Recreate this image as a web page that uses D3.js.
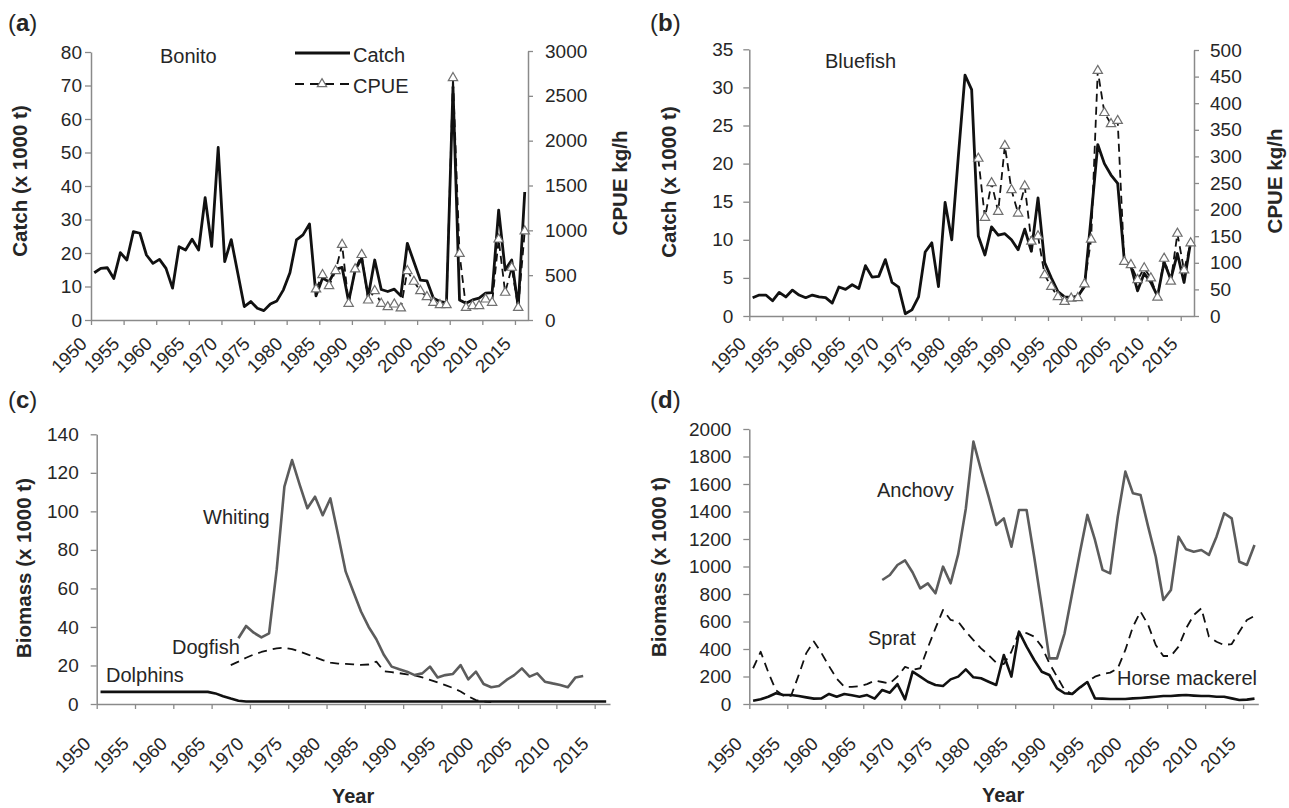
<!DOCTYPE html>
<html><head><meta charset="utf-8">
<script src="https://cdn.jsdelivr.net/npm/d3@7"></script>
<style>
body{margin:0;background:#fff}
svg{display:block}
text{font-family:"Liberation Sans",Arial,Helvetica,sans-serif;fill:#262626}
</style></head>
<body><svg id="chart" width="1289" height="808"></svg>
<script>
// ---------- categories ----------
const years = d3.range(1950, 2017);
const xTickYears = [1950,1955,1960,1965,1970,1975,1980,1985,1990,1995,2000,2005,2010,2015];

// ---------- (a) Bonito ----------
const bonitoCatch = [14.1,15.4,15.6,12.4,20.1,17.9,26.4,25.9,19.4,16.9,18.1,15.4,9.5,21.9,20.9,24.1,20.9,
  36.5,22,51.5,17.4,24,14,4,5.5,3.5,2.8,4.8,5.7,9,14.1,23.9,25.4,28.7,
  7.2,12.5,11.4,15.1,15.7,5.5,14.9,18.4,7.0,17.9,9.1,8.5,9.2,7.2,22.9,17.4,11.9,11.7,6.5,5.5,5.2,
  69.5,6,5.0,6,6.5,8.0,8.2,32.8,14.9,17.9,4.0,38.2];
const bonitoCpueStart = 1984;
const bonitoCpue = [343,503,380,548,840,183,567,727,220,324,183,145,175,131,548,429,324,257,194,168,168,
  2700,740,138,158,158,231,194,900,306,585,138,990];
const catchTicksA = [0,10,20,30,40,50,60,70,80];
const cpueTicksA = [0,500,1000,1500,2000,2500,3000];

// ---------- (b) Bluefish ----------
const bluefishCatch = [2.4,2.75,2.75,2.0,3.1,2.5,3.4,2.75,2.4,2.75,2.5,2.4,1.7,3.8,3.5,4.1,3.6,6.6,5.1,5.2,7.4,4.4,3.8,0.3,0.8,2.5,8.4,9.6,3.85,14.9,10.0,21,31.6,29.7,
  10.5,8.0,11.7,10.6,10.8,10.0,8.7,11.4,8.5,15.5,7.0,5.0,
  3.2,2.5,2.45,2.6,3.85,13,22.5,20.0,18.5,17.4,7.3,6.5,3.3,5.6,4.4,2.6,7.1,4.8,8.2,4.4,9.75];
const bluefishCpueStart = 1984;
const bluefishCpue = [296,185,250,196,320,237,193,244,140,150,77,55,36,27,33,34,60,144,461,382,361,367,102,96,68,90,71,35,108,65,155,86,137];
const catchTicksB = [0,5,10,15,20,25,30,35];
const cpueTicksB = [0,50,100,150,200,250,300,350,400,450,500];

// ---------- (c) Biomass ----------
const dolphins = [6.3,6.3,6.3,6.3,6.3,6.3,6.3,6.3,6.3,6.3,6.3,6.3,6.3,6.3,6.3,5.5,4,2.8,1.7,
  1.3,1.3,1.3,1.3,1.3,1.3,1.3,1.3,1.3,1.3,1.3,1.3,1.3,1.3,1.3,1.3,1.3,1.3,1.3,1.3,1.3,1.3,1.3,1.3,1.3,1.3,1.3,1.3,1.3,
  1.3,1.3,1.3,1.3,1.3,1.3,1.3,1.3,1.3,1.3,1.3,1.3,1.3,1.3,1.3,1.3,1.3,1.3,1.3];
const whitingStart = 1968;
const whiting = [34.1,40.5,37,34.6,36.7,70,112.8,126.6,113.7,101.6,107.6,98,106.7,88,68.7,58.3,48,40,33.6,25.4,19.4,18,16.8,15,15.9,19.4,13.8,15,15.6,20.2,12.8,16.8,10.4,8.7,9.3,12.5,15,18.5,14.2,15.9,11.6,10.7,9.9,8.7,13.8,14.5];
const dogfishStart = 1967;
const dogfish = [20.2,22,24,25.7,27,28,28.9,29.2,28.5,27.2,25.8,24.2,22.8,21.5,21,20.8,20.6,20.3,20.5,22,17,16.5,16,15.4,14.8,13.8,12.5,11.2,9.8,8.3,6.5,4,2,1.3,1.0];
const biomassTicksC = [0,20,40,60,80,100,120,140];

// ---------- (d) Biomass ----------
const anchovyStart = 1967;
const anchovy = [902,938,1011,1045,956,841,877,805,999,878,1090,1420,1908,1702,1508,1302,1350,1144,1411,1411,1071,708,332,332,514,805,1096,1375,1193,975,950,1362,1690,1532,1520,1290,1071,756,829,1217,1125,1108,1120,1084,1217,1387,1350,1035,1011,1156];
const sprat = [260,380,230,100,60,60,210,370,455,370,275,185,125,125,130,145,170,
  160,150,200,270,250,260,410,550,684,611,599,526,465,405,356,300,290,
  380,526,515,490,417,296,199,102,73,114,162,199,218,228,259,393,562,
  672,575,429,349,349,417,550,647,696,490,453,429,436,526,611,640];
const horseMackerel = [24,34,53,78,65,65,58,48,39,41,73,53,73,63,53,65,39,
  102,82,145,34,235,199,162,138,131,179,199,252,194,187,162,138,356,
  199,526,417,320,235,211,114,78,73,120,160,41,39,36,36,36,41,
  44,48,53,58,58,63,65,61,58,58,53,53,41,29,32,39];
const biomassTicksD = [0,200,400,600,800,1000,1200,1400,1600,1800,2000];

// ---------- helpers ----------
const svg = d3.select('#chart');
const AXC = '#8a8a8a';
const fmt = d3.format('d');
function series(start, vals){ return vals.map((v,i)=>({year:start+i, v})); }

function makePanel(cfg){
  const g = svg.append('g');
  const x = d3.scaleLinear().domain([1950, 2017]).range([cfg.x0, cfg.x1]);
  const y = d3.scaleLinear().domain([0, cfg.yMax]).range([cfg.yb, cfg.yt]);
  // x axis
  const xa = g.append('g').attr('transform', `translate(0,${cfg.yb})`)
    .call(d3.axisBottom(x).tickValues(xTickYears).tickSize(5).tickSizeOuter(0).tickFormat(''));
  xa.select('.domain').attr('stroke', AXC).attr('stroke-width', 1.5);
  xa.selectAll('.tick line').attr('stroke', AXC).attr('stroke-width', 1.3);
  g.selectAll('.xlab').data(xTickYears).join('text')
    .attr('transform', d => `translate(${x(d) + cfg.xlDx},${cfg.xlY}) rotate(-45)`)
    .attr('text-anchor', 'end').attr('font-size', 18.5).text(d => d);
  // left axis
  const ya = g.append('g').attr('transform', `translate(${cfg.x0},0)`)
    .call(d3.axisLeft(y).tickValues(cfg.ticks).tickFormat(fmt).tickSize(6).tickSizeOuter(0).tickPadding(cfg.padL));
  ya.select('.domain').attr('stroke', AXC).attr('stroke-width', 1.5);
  ya.selectAll('.tick line').attr('stroke', AXC).attr('stroke-width', 1.3);
  ya.selectAll('.tick text').attr('font-size', 19).attr('fill', '#262626');
  ya.attr('font-family', null);
  let y2 = null;
  if (cfg.y2Max){
    y2 = d3.scaleLinear().domain([0, cfg.y2Max]).range([cfg.yb, cfg.yt2]);
    const ra = g.append('g').attr('transform', `translate(${cfg.x1},0)`)
      .call(d3.axisRight(y2).tickValues(cfg.ticks2).tickFormat(fmt).tickSize(5).tickSizeOuter(0).tickPadding(cfg.padR));
    ra.select('.domain').attr('stroke', AXC).attr('stroke-width', 1.5);
    ra.selectAll('.tick line').attr('stroke', AXC).attr('stroke-width', 1.3);
    ra.selectAll('.tick text').attr('font-size', 19).attr('fill', '#262626');
    ra.attr('font-family', null);
  }
  return {g, x, y, y2};
}

function drawLine(p, data, scale, style){
  const line = d3.line().x(d => p.x(d.year + 0.5)).y(d => scale(d.v));
  return p.g.append('path').datum(data).attr('d', line)
    .attr('fill', 'none').attr('stroke', style.color).attr('stroke-width', style.width)
    .attr('stroke-dasharray', style.dash || null).attr('stroke-linejoin', 'round');
}
function drawTriangles(p, data, scale){
  p.g.selectAll(null).data(data).join('path')
    .attr('d', d3.symbol(d3.symbolTriangle, 38)())
    .attr('transform', d => `translate(${p.x(d.year + 0.5)},${scale(d.v)})`)
    .attr('fill', '#fff').attr('stroke', '#707070').attr('stroke-width', 1.2);
}
function label(x, y, txt, size, bold){
  return svg.append('text').attr('x', x).attr('y', y).attr('font-size', size)
    .attr('font-weight', bold ? 'bold' : null).text(txt);
}
function vtitle(x, y, txt){
  svg.append('text').attr('transform', `translate(${x},${y}) rotate(-90)`)
    .attr('text-anchor', 'middle').attr('font-size', 20.5).attr('font-weight', 'bold').text(txt);
}
function panelLetter(x, y, ch){
  const t = svg.append('text').attr('x', x).attr('y', y).attr('font-size', 24);
  t.append('tspan').text('(');
  t.append('tspan').attr('font-weight', 'bold').text(ch);
  t.append('tspan').text(')');
}

// ---------- panel (a) ----------
const pa = makePanel({x0:91, x1:528, yb:320, yt:52, yt2:51, yMax:80, ticks:catchTicksA,
  y2Max:3000, ticks2:cpueTicksA, padL:3, padR:12, xlDx:-3, xlY:345});
drawLine(pa, series(1950, bonitoCatch), pa.y, {color:'#111', width:2.8});
drawLine(pa, series(bonitoCpueStart, bonitoCpue), pa.y2, {color:'#111', width:1.8, dash:'8,5'});
drawTriangles(pa, series(bonitoCpueStart, bonitoCpue), pa.y2);
// legend
svg.append('line').attr('x1', 295).attr('x2', 350).attr('y1', 53).attr('y2', 53).attr('stroke', '#111').attr('stroke-width', 2.8);
svg.append('line').attr('x1', 295).attr('x2', 350).attr('y1', 84).attr('y2', 84).attr('stroke', '#111').attr('stroke-width', 1.8).attr('stroke-dasharray', '9,6');
svg.append('path').attr('d', d3.symbol(d3.symbolTriangle, 38)()).attr('transform', 'translate(322,84)')
  .attr('fill', '#fff').attr('stroke', '#707070').attr('stroke-width', 1.2);
label(353, 62, 'Catch', 20);
label(353, 93, 'CPUE', 20);
label(160, 63, 'Bonito', 20);
vtitle(27, 181, 'Catch (x 1000 t)');
vtitle(627, 183, 'CPUE kg/h');
panelLetter(8, 31, 'a');

// ---------- panel (b) ----------
const pb = makePanel({x0:749.3, x1:1194, yb:316, yt:49.3, yt2:50, yMax:35, ticks:catchTicksB,
  y2Max:500, ticks2:cpueTicksB, padL:10, padR:11, xlDx:-2, xlY:345});
drawLine(pb, series(1950, bluefishCatch), pb.y, {color:'#111', width:2.8});
drawLine(pb, series(bluefishCpueStart, bluefishCpue), pb.y2, {color:'#111', width:1.8, dash:'8,5'});
drawTriangles(pb, series(bluefishCpueStart, bluefishCpue), pb.y2);
label(825, 68, 'Bluefish', 20);
vtitle(676, 182, 'Catch (x 1000 t)');
vtitle(1282, 181, 'CPUE kg/h');
panelLetter(650, 31, 'b');

// ---------- panel (c) ----------
const pc = makePanel({x0:96.7, x1:610, yb:704, yt:434.3, yMax:140, ticks:biomassTicksC,
  padL:12, xlDx:-5, xlY:745});
drawLine(pc, series(dogfishStart, dogfish), pc.y, {color:'#111', width:1.8, dash:'9,6'});
drawLine(pc, series(whitingStart, whiting), pc.y, {color:'#5c5c5c', width:2.6});
drawLine(pc, series(1950, dolphins), pc.y, {color:'#111', width:2.6});
label(203, 524, 'Whiting', 20);
label(172, 654, 'Dogfish', 20);
label(106, 682, 'Dolphins', 20);
vtitle(31, 568, 'Biomass (x 1000 t)');
label(332, 803, 'Year', 20, true);
panelLetter(8, 408, 'c');

// ---------- panel (d) ----------
const pd = makePanel({x0:749.3, x1:1258.3, yb:704, yt:429, yMax:2000, ticks:biomassTicksD,
  padL:12, xlDx:-6, xlY:745});
drawLine(pd, series(anchovyStart, anchovy), pd.y, {color:'#5c5c5c', width:2.6});
drawLine(pd, series(1950, sprat), pd.y, {color:'#111', width:1.8, dash:'9,6'});
drawLine(pd, series(1950, horseMackerel), pd.y, {color:'#111', width:2.6});
label(877, 497, 'Anchovy', 20);
label(868, 645, 'Sprat', 20);
label(1117, 685, 'Horse mackerel', 20);
vtitle(666, 567, 'Biomass (x 1000 t)');
label(982, 802, 'Year', 20, true);
panelLetter(650, 408, 'd');
</script></body></html>
